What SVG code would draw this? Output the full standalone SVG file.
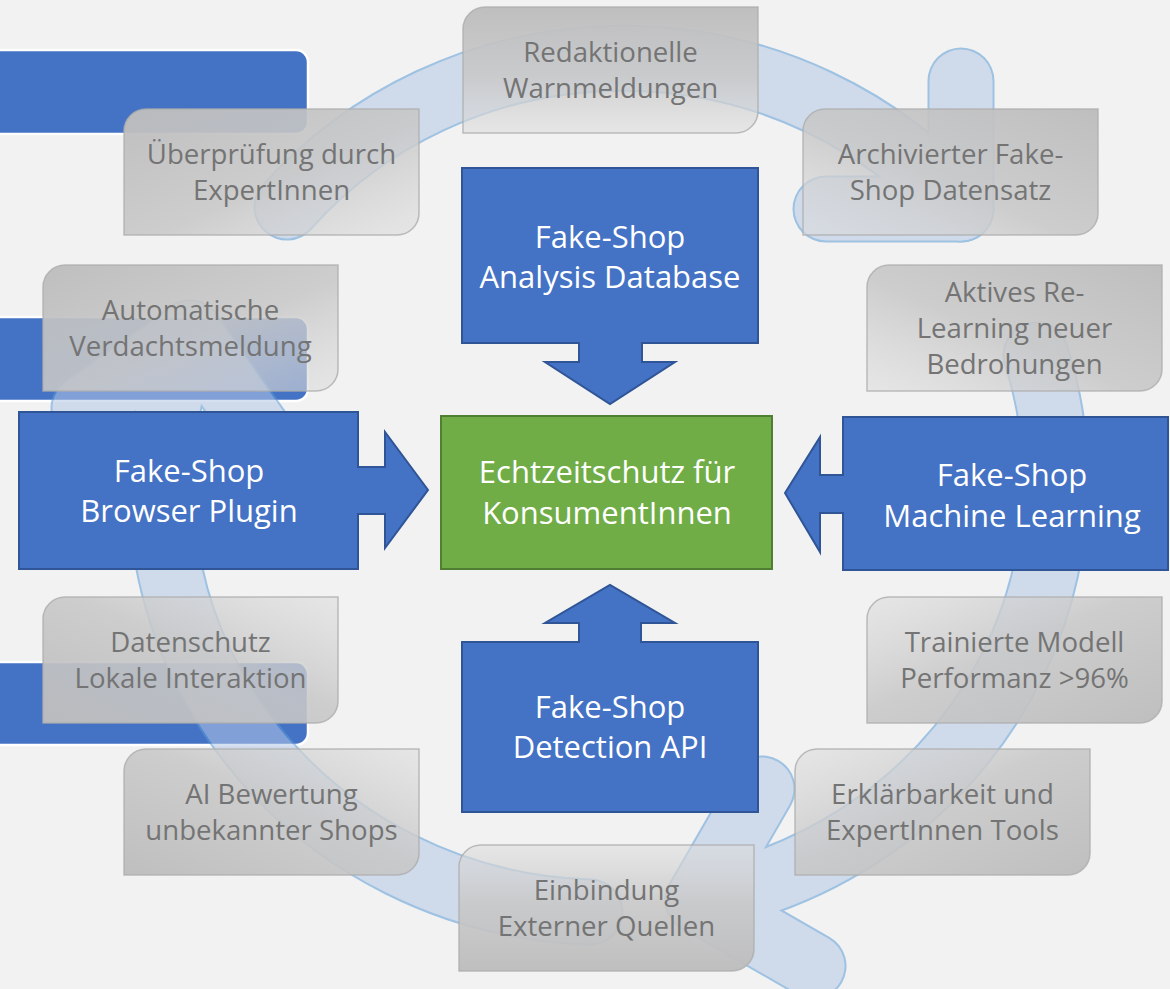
<svg xmlns="http://www.w3.org/2000/svg" xmlns:xlink="http://www.w3.org/1999/xlink" width="1170" height="989" viewBox="0 0 1170 989">
<style>
.bar{fill:#4472c4;stroke:#ffffff;stroke-width:2.5}
.blue{fill:#4472c4;stroke:#2f5597;stroke-width:2}
.green{fill:#70ad47;stroke:#507e32;stroke-width:2}
.wt{font-family:"Open Sans","Noto Sans","DejaVu Sans",sans-serif;font-size:31px;fill:#ffffff;text-anchor:middle}
.gt{font-family:"Open Sans","Noto Sans","DejaVu Sans",sans-serif;font-size:27.6px;fill:#747474;text-anchor:middle}
.gbox{stroke:#adadad;stroke-width:1.5;stroke-opacity:0.8}
.ringOut{fill:none;stroke:#5b9bd5;stroke-width:67;stroke-linecap:round;stroke-linejoin:round}
.ringIn{fill:none;stroke:#b4c7e7;stroke-width:63;stroke-linecap:round;stroke-linejoin:round}
</style>
<defs>
<linearGradient id="gDown" x1="0" y1="0" x2="0" y2="1"><stop offset="0" stop-color="#bdbdbd" stop-opacity="0.97"/><stop offset="0.55" stop-color="#c8c8c8" stop-opacity="0.88"/><stop offset="1" stop-color="#dcdcdc" stop-opacity="0.55"/></linearGradient>
<linearGradient id="gUp" x1="0" y1="1" x2="0" y2="0"><stop offset="0" stop-color="#bdbdbd" stop-opacity="0.97"/><stop offset="0.55" stop-color="#c8c8c8" stop-opacity="0.88"/><stop offset="1" stop-color="#dcdcdc" stop-opacity="0.55"/></linearGradient>
<linearGradient id="gDR" x1="0" y1="0" x2="1" y2="1"><stop offset="0" stop-color="#bdbdbd" stop-opacity="0.97"/><stop offset="0.55" stop-color="#c8c8c8" stop-opacity="0.88"/><stop offset="1" stop-color="#dcdcdc" stop-opacity="0.55"/></linearGradient>
<linearGradient id="gUL" x1="1" y1="1" x2="0" y2="0"><stop offset="0" stop-color="#bdbdbd" stop-opacity="0.97"/><stop offset="0.55" stop-color="#c8c8c8" stop-opacity="0.88"/><stop offset="1" stop-color="#dcdcdc" stop-opacity="0.55"/></linearGradient>
<linearGradient id="gDL" x1="1" y1="0" x2="0" y2="1"><stop offset="0" stop-color="#bdbdbd" stop-opacity="0.97"/><stop offset="0.55" stop-color="#c8c8c8" stop-opacity="0.88"/><stop offset="1" stop-color="#dcdcdc" stop-opacity="0.55"/></linearGradient>
<linearGradient id="gUR" x1="0" y1="1" x2="1" y2="0"><stop offset="0" stop-color="#bdbdbd" stop-opacity="0.97"/><stop offset="0.55" stop-color="#c8c8c8" stop-opacity="0.88"/><stop offset="1" stop-color="#dcdcdc" stop-opacity="0.55"/></linearGradient>
<path id="arcA" d="M287,207 A443,427 0 0 1 961,209"/>
<path id="arcB" d="M1036,355 A443,427 0 0 1 698,900"/>
<path id="arcC" d="M590,912 A443,427 0 0 1 190,333"/>
<path id="headA" d="M961,81 L961,209 L826,209"/>
<path id="headB" d="M762,789 L698,900 L813,966"/>
<path id="headC" d="M84,408 L190,333 L265,440"/>
</defs>

<rect x="0" y="0" width="1170" height="989" fill="#f2f2f2"/>

<g id="bars">
<path class="bar" d="M-10,50 H296 A12,12 0 0 1 308,62 V122 A12,12 0 0 1 296,134 H-10 Z"/>
<path class="bar" d="M-10,317 H296 A12,12 0 0 1 308,329 V389 A12,12 0 0 1 296,401 H-10 Z"/>
<path class="bar" d="M-10,662 H296 A12,12 0 0 1 308,674 V733 A12,12 0 0 1 296,745 H-10 Z"/>
</g>

<g id="connectors" opacity="0.55">
<g class="ringOut">
<use xlink:href="#arcA"/><use xlink:href="#arcB"/><use xlink:href="#arcC"/>
<use xlink:href="#headA"/><use xlink:href="#headB"/><use xlink:href="#headC"/>
</g>
<g class="ringIn">
<use xlink:href="#arcA"/><use xlink:href="#arcB"/><use xlink:href="#arcC"/>
<use xlink:href="#headA"/><use xlink:href="#headB"/><use xlink:href="#headC"/>
</g>
</g>

<g id="n-redaktionelle"><path class="gbox" fill="url(#gDown)" d="M485,7 H758 V111 A22,22 0 0 1 736,133 H463 V29 A22,22 0 0 1 485,7 Z"/><text class="gt" x="610.5" y="62">Redaktionelle</text><text class="gt" x="610.5" y="98">Warnmeldungen</text></g>
<g id="n-ueberpruefung"><path class="gbox" fill="url(#gDR)" d="M146,109 H419 V213 A22,22 0 0 1 397,235 H124 V131 A22,22 0 0 1 146,109 Z"/><text class="gt" x="271.5" y="164">Überprüfung durch</text><text class="gt" x="271.5" y="200">ExpertInnen</text></g>
<g id="n-archiviert"><path class="gbox" fill="url(#gDL)" d="M825,109 H1098 V213 A22,22 0 0 1 1076,235 H803 V131 A22,22 0 0 1 825,109 Z"/><text class="gt" x="950.5" y="164">Archivierter Fake-</text><text class="gt" x="950.5" y="200">Shop Datensatz</text></g>
<g id="n-automatische"><path class="gbox" fill="url(#gDR)" d="M65,265 H338 V369 A22,22 0 0 1 316,391 H43 V287 A22,22 0 0 1 65,265 Z"/><text class="gt" x="190.5" y="320">Automatische</text><text class="gt" x="190.5" y="356">Verdachtsmeldung</text></g>
<g id="n-aktives"><path class="gbox" fill="url(#gDL)" d="M889,265 H1162 V369 A22,22 0 0 1 1140,391 H867 V287 A22,22 0 0 1 889,265 Z"/><text class="gt" x="1014.5" y="302">Aktives Re-</text><text class="gt" x="1014.5" y="338">Learning neuer</text><text class="gt" x="1014.5" y="374">Bedrohungen</text></g>
<g id="n-datenschutz"><path class="gbox" fill="url(#gUR)" d="M65,597 H338 V701 A22,22 0 0 1 316,723 H43 V619 A22,22 0 0 1 65,597 Z"/><text class="gt" x="190.5" y="652">Datenschutz</text><text class="gt" x="190.5" y="688">Lokale Interaktion</text></g>
<g id="n-ai"><path class="gbox" fill="url(#gUR)" d="M146,749 H419 V853 A22,22 0 0 1 397,875 H124 V771 A22,22 0 0 1 146,749 Z"/><text class="gt" x="271.5" y="804">AI Bewertung</text><text class="gt" x="271.5" y="840">unbekannter Shops</text></g>
<g id="n-trainierte"><path class="gbox" fill="url(#gUL)" d="M889,597 H1162 V701 A22,22 0 0 1 1140,723 H867 V619 A22,22 0 0 1 889,597 Z"/><text class="gt" x="1014.5" y="652">Trainierte Modell</text><text class="gt" x="1014.5" y="688">Performanz &gt;96%</text></g>
<g id="n-erklaerbarkeit"><path class="gbox" fill="url(#gUL)" d="M817,749 H1090 V853 A22,22 0 0 1 1068,875 H795 V771 A22,22 0 0 1 817,749 Z"/><text class="gt" x="942.5" y="804">Erklärbarkeit und</text><text class="gt" x="942.5" y="840">ExpertInnen Tools</text></g>
<g id="n-einbindung"><path class="gbox" fill="url(#gUp)" d="M481,845 H754 V949 A22,22 0 0 1 732,971 H459 V867 A22,22 0 0 1 481,845 Z"/><text class="gt" x="606.5" y="900">Einbindung</text><text class="gt" x="606.5" y="936">Externer Quellen</text></g>

<g id="n-database"><path class="blue" d="M462,168 H758 V343 H642 V362 H675 L610,404 L545,362 H579 V343 H462 Z"/><text class="wt" x="610" y="248">Fake-Shop</text><text class="wt" x="610" y="288">Analysis Database</text></g>
<g id="n-api"><path class="blue" d="M462,812 H758 V642 H641 V623 H675 L610,585 L545,623 H579 V642 H462 Z"/><text class="wt" x="610" y="718">Fake-Shop</text><text class="wt" x="610" y="758">Detection API</text></g>
<g id="n-plugin"><path class="blue" d="M19,412 H358 V467 H385 V432 L428,490 L385,548 V514 H358 V569 H19 Z"/><text class="wt" x="189" y="482">Fake-Shop</text><text class="wt" x="189" y="522">Browser Plugin</text></g>
<g id="n-ml"><path class="blue" d="M843,417 H1168 V570 H843 V513 H820 V552 L785,493 L820,437 V475 H843 Z"/><text class="wt" x="1012" y="486">Fake-Shop</text><text class="wt" x="1012" y="527">Machine Learning</text></g>
<g id="n-center"><rect class="green" x="441" y="416" width="331" height="153"/><text class="wt" x="607" y="483">Echtzeitschutz für</text><text class="wt" x="607" y="524">KonsumentInnen</text></g>
</svg>
